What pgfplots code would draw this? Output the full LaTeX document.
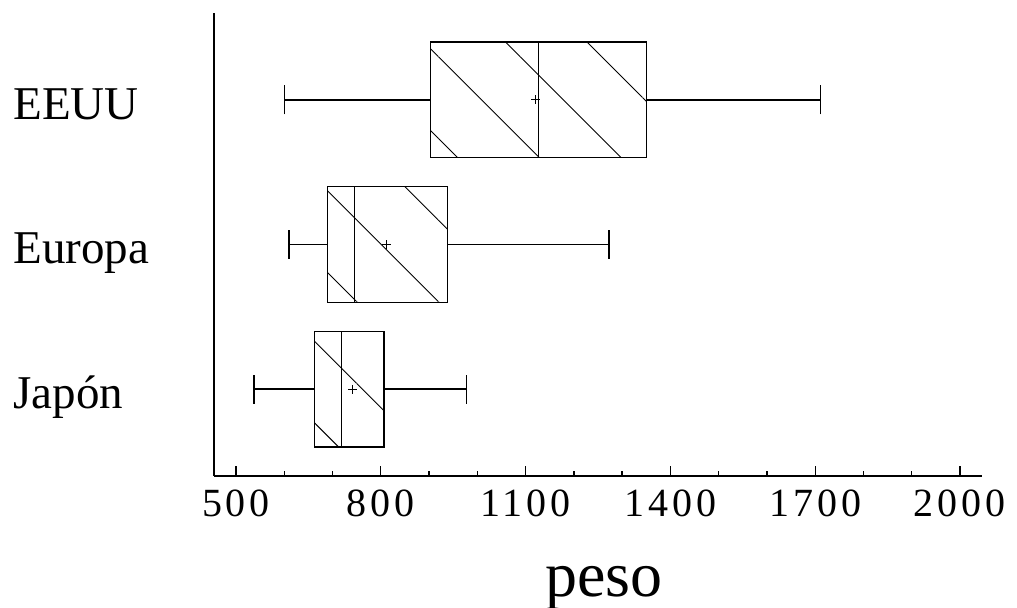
\documentclass[border=0pt]{standalone}
\usepackage{fontspec}
\setmainfont{Liberation Serif}
\newfontfamily\tickfont[LetterSpace=10]{Liberation Serif}
\usepackage{pgfplots}
\pgfplotsset{compat=1.18}
\usepgfplotslibrary{statistics}
\usetikzlibrary{patterns.meta}
\begin{document}
\begin{tikzpicture}
\begin{axis}[
  at={(0,0)}, anchor=south west,
  scale only axis,
  width=384pt, height=231.5pt,
  xmin=454.4, xmax=2045.6,
  ymin=0.4, ymax=3.6,
  axis x line*=bottom,
  axis y line*=left,
  axis line style={line width=0.7pt, black},
  xtick={500,800,1100,1400,1700,2000},
  xticklabels={500,800,1100,1400,1700,2000},
  minor x tick num=2,
  tick align=inside,
  major tick length=5pt,
  minor tick length=2.5pt,
  every tick/.style={black, line width=0.65pt},
  xticklabel style={font=\tickfont\fontsize{20}{24}\selectfont, yshift=-3.6pt},
  ytick={1,2,3},
  yticklabels={Japón,Europa,EEUU},
  ytick style={draw=none},
  yticklabel style={font=\fontsize{23.5}{28}\selectfont, anchor=base west, xshift=-100.5pt, yshift=-9.65pt, inner sep=0pt},
  xlabel={peso},
  xlabel style={font=\fontsize{32}{38}\selectfont, at={(axis description cs:0.5,0)}, anchor=base, yshift=-60.5pt, xshift=3pt, inner sep=0pt},
  boxplot/draw direction=x,
  boxplot/box extend=0.8,
  boxplot/whisker extend=0.2,
  boxplot/every box/.style={draw=black, line width=0.7pt, pattern={Lines[angle=-45,distance=28.88pt,line width=0.45pt,xshift=4.75pt]}},
  boxplot/every whisker/.style={black, line width=0.7pt},
  boxplot/every median/.style={black, line width=0.7pt},
  boxplot/every average/.style={/tikz/mark=+, /tikz/mark size=2.2pt, /tikz/mark options={black, line width=0.6pt}},
]
\addplot[black, boxplot prepared={draw position=3, lower whisker=601, lower quartile=902.5, median=1127, upper quartile=1351, upper whisker=1711, average=1121}] coordinates {};
\addplot[black, boxplot prepared={draw position=2, lower whisker=610, lower quartile=689, median=746, upper quartile=938, upper whisker=1273, average=812}] coordinates {};
\addplot[black, boxplot prepared={draw position=1, lower whisker=537, lower quartile=663, median=718, upper quartile=807, upper whisker=977, average=742}] coordinates {};
\end{axis}
\pgfresetboundingbox
\path[use as bounding box] (-107pt,-66pt) rectangle (401.5pt,238pt);
\end{tikzpicture}
\end{document}
